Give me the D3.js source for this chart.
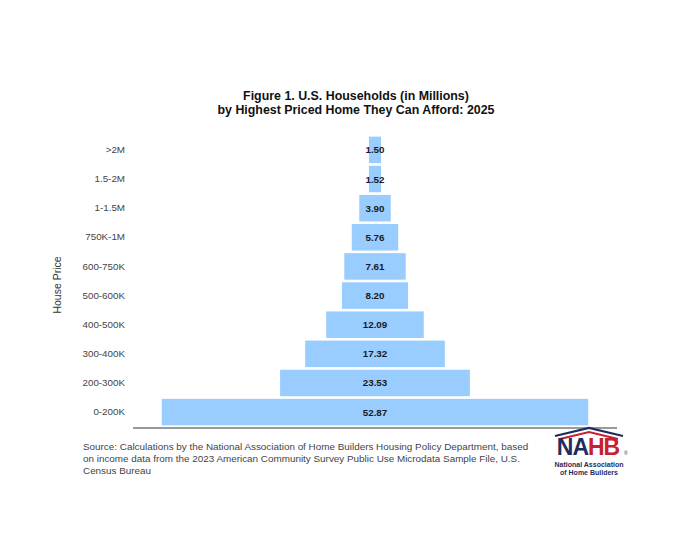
<!DOCTYPE html>
<html lang="en">
<head>
<meta charset="UTF-8">
<title>U.S. Households by Highest Priced Home They Can Afford</title>
<script src="https://cdn.jsdelivr.net/npm/d3@7/dist/d3.min.js"></script>
<style>
  body { margin: 0; background: #fff; }
  svg text { font-family: "Liberation Sans", Arial, sans-serif; }
  .tick-label { font-size: 9.8px; fill: #444; }
  .value { font-size: 9.8px; font-weight: bold; fill: #1a1a1a; }
  .title { font-size: 12.4px; font-weight: bold; fill: #111; }
  .source { font-size: 9.9px; fill: #444; }
</style>
</head>
<body>
<svg id="chart" width="680" height="560"></svg>
<script>
// data, top row first
var categories = [">2M", "1.5-2M", "1-1.5M", "750K-1M", "600-750K",
                  "500-600K", "400-500K", "300-400K", "200-300K", "0-200K"];
var households = [1.50, 1.52, 3.90, 5.76, 7.61, 8.20, 12.09, 17.32, 23.53, 52.87];
var xMax = 60;

var titleLines = ["Figure 1. U.S. Households (in Millions)",
                  "by Highest Priced Home They Can Afford: 2025"];
var sourceLines = [
  "Source: Calculations by the National Association of Home Builders Housing Policy Department, based",
  "on income data from the 2023 American Community Survey Public Use Microdata Sample File, U.S.",
  "Census Bureau"
];

(function () {
    var svg = d3.select("#chart");
    var plotLeft = 133, plotRight = 617, plotTop = 134, plotBottom = 428;

    var x = d3.scaleLinear().domain([0, xMax]).range([plotLeft, plotRight]);
    var y = d3.scaleBand().domain(categories).range([plotTop, plotBottom]).padding(0.09);

    // title
    svg.selectAll("text.title")
        .data(titleLines)
        .enter().append("text")
        .attr("class", "title")
        .attr("x", 356)
        .attr("y", function (d, i) { return 100 + i * 13.8; })
        .attr("text-anchor", "middle")
        .text(function (d) { return d; });

    // bars centred on the middle of the axis (pyramid)
    var rows = categories.map(function (c, i) { return {cat: c, v: households[i]}; });

    svg.selectAll("rect.bar")
        .data(rows)
        .enter().append("rect")
        .attr("class", "bar")
        .attr("x", function (d) { return x(xMax / 2 - d.v / 2); })
        .attr("y", function (d) { return y(d.cat); })
        .attr("width", function (d) { return x(d.v) - x(0); })
        .attr("height", y.bandwidth())
        .attr("fill", "#99ccff");

    svg.selectAll("text.value")
        .data(rows)
        .enter().append("text")
        .attr("class", "value")
        .attr("x", x(xMax / 2))
        .attr("y", function (d) { return y(d.cat) + y.bandwidth() / 2 + 3.5; })
        .attr("text-anchor", "middle")
        .text(function (d) { return d3.format(".2f")(d.v); });

    // y axis labels, no axis line
    var yAxis = d3.axisLeft(y).tickSize(0).tickPadding(8);
    var gy = svg.append("g")
        .attr("transform", "translate(" + plotLeft + ",0)")
        .call(yAxis);
    gy.select(".domain").remove();
    gy.attr("font-family", null).attr("font-size", null);
    gy.selectAll("text").attr("class", "tick-label");

    // baseline
    svg.append("line")
        .attr("x1", plotLeft).attr("x2", plotRight)
        .attr("y1", plotBottom).attr("y2", plotBottom)
        .attr("stroke", "#777")
        .attr("stroke-width", 1.3);

    // y axis title
    svg.append("text")
        .attr("transform", "translate(61," + ((plotTop + plotBottom) / 2 + 4) + ") rotate(-90)")
        .attr("text-anchor", "middle")
        .style("font-size", "10.5px")
        .style("fill", "#333")
        .text("House Price");

    // source note
    svg.selectAll("text.source")
        .data(sourceLines)
        .enter().append("text")
        .attr("class", "source")
        .attr("x", 83)
        .attr("y", function (d, i) { return 450 + i * 12.2; })
        .text(function (d) { return d; });

    // NAHB logo
    var logo = svg.append("g");
    logo.append("polyline")
        .attr("points", "555,436 589,428 623,436")
        .attr("fill", "none").attr("stroke", "#1f2d5e").attr("stroke-width", 2.2);
    logo.append("polyline")
        .attr("points", "560,439 589,432 618,439")
        .attr("fill", "none").attr("stroke", "#c8202f").attr("stroke-width", 2);
    var nahb = logo.append("text")
        .attr("x", 588).attr("y", 455)
        .attr("text-anchor", "middle")
        .style("font-size", "23px").style("font-weight", "bold")
        .style("letter-spacing", "-1px");
    nahb.append("tspan").attr("fill", "#1f2d5e").text("NA");
    nahb.append("tspan").attr("fill", "#c8202f").text("HB");
    logo.append("text")
        .attr("x", 624).attr("y", 455)
        .style("font-size", "5px").attr("fill", "#1f2d5e").text("®");
    logo.selectAll("text.sub")
        .data(["National Association", "of Home Builders"])
        .enter().append("text")
        .attr("class", "sub")
        .attr("x", 589)
        .attr("y", function (d, i) { return 467 + i * 8; })
        .attr("text-anchor", "middle")
        .style("font-size", "7px").style("font-weight", "bold")
        .attr("fill", "#1f2d5e")
        .text(function (d) { return d; });
})();
</script>
</body>
</html>
